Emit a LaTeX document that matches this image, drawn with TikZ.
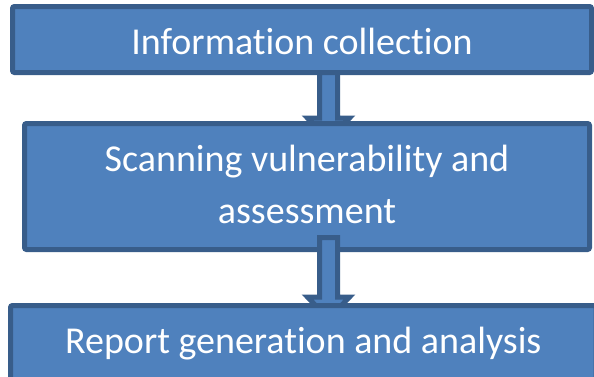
\documentclass[tikz,border=0pt]{standalone}
\usepackage{fontspec}
\setmainfont{Carlito}[Ligatures=NoCommon]
\usetikzlibrary{calc}
\definecolor{boxfill}{HTML}{4F81BD}
\definecolor{boxline}{HTML}{385D8A}
\begin{document}
\begin{tikzpicture}[x=1pt,y=-1pt,
  stepbox/.style={draw=boxline, fill=boxfill, line width=5pt, rounded corners=2pt,
    text=white, font=\fontsize{38}{52}\selectfont, align=center, inner sep=0pt},
  blockarrow/.style={draw=boxline, fill=boxfill, line width=5pt, line join=miter}]
\useasboundingbox (0,0) rectangle (594,376);
\clip (0,0) rectangle (594,376);

% process steps, each arrow sits between the box above and the box below
\node[stepbox, minimum width=579pt, minimum height=66pt,
  text height=30pt, text depth=0.4pt] (info) at (302,39.5)
  {Information collection};
\draw[blockarrow] ($(info.south)+(17.5,-2.5)$) -- ++(0,45.5) -- ++(-12,0)
  -- ++(21,22) -- ++(21,-22) -- ++(-12,0) -- ++(0,-45.5) -- cycle;

\node[stepbox, minimum width=565pt, minimum height=126pt,
  text depth=5pt] (scan) at (307,186.5)
  {Scanning vulnerability and\\assessment};
\draw[blockarrow] ($(scan.south)+(12.5,-14.5)$) -- ++(0,59.5) -- ++(-12,0)
  -- ++(21,22) -- ++(21,-22) -- ++(-12,0) -- ++(0,-59.5) -- cycle;

\node[stepbox, minimum width=585.5pt, minimum height=74.5pt,
  text height=28pt, text depth=6.9pt] (report) at (303.25,342.75)
  {Report generation and analysis};
\end{tikzpicture}
\end{document}
